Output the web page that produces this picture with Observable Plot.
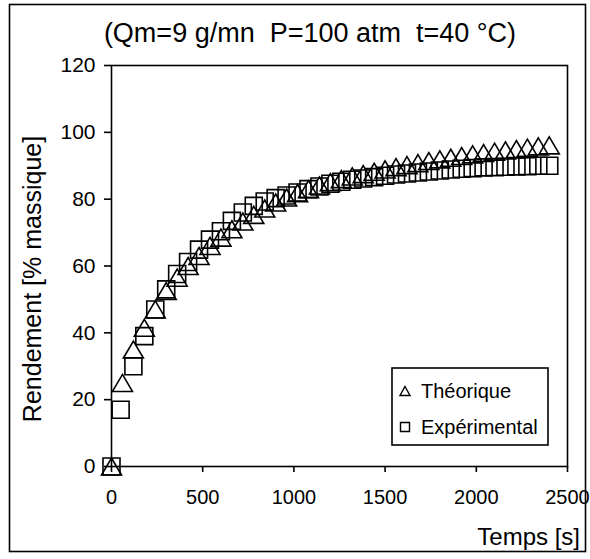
<!DOCTYPE html>
<html>
<head>
<meta charset="utf-8">
<script src="https://cdn.jsdelivr.net/npm/d3@7"></script>
<script src="https://cdn.jsdelivr.net/npm/@observablehq/plot@0.6"></script>
<style>
  body { margin: 0; background: white; }
  #chart { position: relative; width: 590px; height: 559px; }
  svg text { white-space: pre; }
</style>
</head>
<body>
<div id="chart"></div>
<script>
// ---- Data ----
const titre = "(Qm=9 g/mn  P=100 atm  t=40 °C)";
const labelX = "Temps [s]";
const labelY = "Rendement [% massique]";
const serieNoms = ["Théorique", "Expérimental"];

const temps = [0,60,120,180,240,300,360,420,480,540,600,660,720,780,840,900,960,1020,1080,1140,1200,1260,1320,1380,1440,1500,1560,1620,1680,1740,1800,1860,1920,1980,2040,2100,2160,2220,2280,2340,2400];
const tempsExp = [0,50,120,180,240,300,360,420,480,540,600,660,720,780,840,900,960,1020,1080,1140,1200,1260,1320,1380,1440,1500,1560,1620,1680,1740,1800,1860,1920,1980,2040,2100,2160,2220,2280,2340,2400];

const theorique = [0,25,35,41.5,47,52.5,56.5,60,63,66,68.5,71,73.3,75.3,77.2,79,80.5,81.8,83,84.1,85.1,86,86.8,87.5,88.2,88.9,89.6,90.2,90.8,91.4,91.9,92.4,92.9,93.4,93.8,94.2,94.6,95,95.4,95.8,96.1];
const experimental = [0,17,30,39,47,53,57.6,61.2,64.9,67.9,70.4,73.5,76,78,79.3,80.3,81.1,82,83,83.8,84.6,85.2,85.8,86.2,86.6,87,87.4,87.7,88,88.3,88.6,88.9,89.1,89.3,89.5,89.6,89.7,89.8,89.9,90,90];

const xTicks = [0,500,1000,1500,2000,2500];
const yTicks = [0,20,40,60,80,100,120];

// ---- Build tables ----
const dataTheo = temps.map((t, i) => ({t, v: theorique[i]}));
const dataExp = tempsExp.map((t, i) => ({t, v: experimental[i]}));

// custom open symbols (bbox-centred, like the spreadsheet markers)
const makeTri = (w, h) => ({draw(ctx) { ctx.moveTo(0, -h/2); ctx.lineTo(w/2, h/2); ctx.lineTo(-w/2, h/2); ctx.closePath(); }});
const makeSq = (s) => ({draw(ctx) { ctx.moveTo(-s/2, -s/2); ctx.lineTo(s/2, -s/2); ctx.lineTo(s/2, s/2); ctx.lineTo(-s/2, s/2); ctx.closePath(); }});

const font = "'Liberation Sans', Arial, sans-serif";

const chart = Plot.plot({
  width: 590,
  height: 559,
  marginLeft: 111,
  marginRight: 23,
  marginTop: 65,
  marginBottom: 93,
  style: {fontFamily: font, fontSize: "20px", color: "black", background: "white", overflow: "visible"},
  x: {domain: [0, 2500]},
  y: {domain: [0, 120]},
  marks: [
    Plot.frame({stroke: "black", strokeWidth: 1.6}),
    Plot.axisX({ticks: xTicks, tickSize: 6, tickPadding: 17, label: null, fontSize: 20, strokeWidth: 1.6, tickFormat: d => String(d)}),
    Plot.axisY({ticks: yTicks, tickSize: 7, tickPadding: 9, label: null, fontSize: 21, strokeWidth: 1.6, tickFormat: d => String(d)}),
    Plot.dot(dataExp, {x: "t", y: "v", symbol: makeSq(17), r: 5, fill: "none", stroke: "black", strokeWidth: 1.6}),
    Plot.dot(dataTheo, {x: "t", y: "v", symbol: makeTri(20, 17), r: 5, fill: "none", stroke: "black", strokeWidth: 1.6})
  ]
});

document.getElementById("chart").appendChild(chart);

const svg = d3.select(chart);

// outer border
svg.append("rect").attr("x", 9.5).attr("y", 4.5).attr("width", 576).attr("height", 547)
  .attr("fill", "none").attr("stroke", "black").attr("stroke-width", 1.6);

// title
svg.append("text").attr("x", 310).attr("y", 42).attr("text-anchor", "middle")
  .attr("font-family", font).attr("font-size", 27).attr("fill", "black").text(titre);

// axis titles
svg.append("text").attr("x", 580).attr("y", 545).attr("text-anchor", "end")
  .attr("font-family", font).attr("font-size", 24).attr("fill", "black").text(labelX);
svg.append("text").attr("transform", "translate(41,279) rotate(-90)").attr("text-anchor", "middle")
  .attr("font-family", font).attr("font-size", 25).attr("fill", "black").text(labelY);

// legend
const lg = svg.append("g");
lg.append("rect").attr("x", 392).attr("y", 368).attr("width", 156).attr("height", 77)
  .attr("fill", "white").attr("stroke", "black").attr("stroke-width", 1.6);
const legendSyms = [makeTri(10, 9), makeSq(9)];
const legendY = [391, 427];
serieNoms.forEach((name, i) => {
  lg.append("path").attr("transform", `translate(405,${legendY[i]})`)
    .attr("d", d3.symbol(legendSyms[i])())
    .attr("fill", "none").attr("stroke", "black").attr("stroke-width", 1.4);
  lg.append("text").attr("x", 421).attr("y", legendY[i] + 7).attr("text-anchor", "start")
    .attr("font-family", font).attr("font-size", 20).attr("fill", "black").text(name);
});
</script>
</body>
</html>
